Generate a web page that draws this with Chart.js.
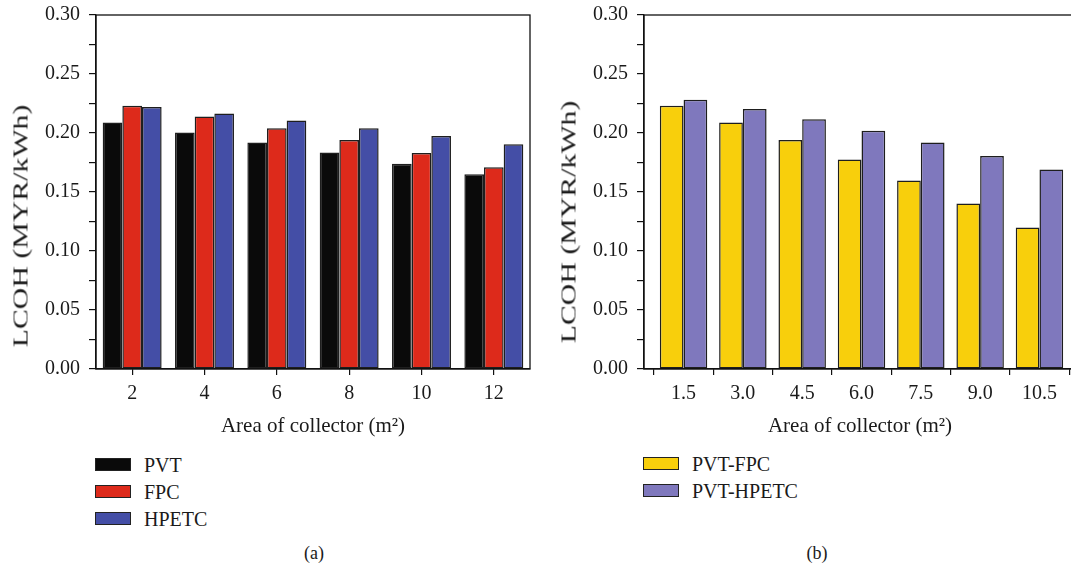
<!DOCTYPE html>
<html>
<head>
<meta charset="utf-8">
<script src="https://cdn.jsdelivr.net/npm/chart.js@4/dist/chart.umd.min.js"></script>
<style>
  body { margin: 0; width: 1071px; height: 571px; overflow: hidden; background: #fff; position: relative;
         font-family: "Liberation Serif", serif; color: #1a1a1a; }
  canvas { position: absolute; top: -6px; }
  .txt { position: absolute; white-space: nowrap; font-size: 21px; line-height: 1; }
  .ytitre { transform: translate(-50%, -50%) rotate(-90deg) scaleX(1.42); }
  .xtitre { transform: translate(-50%, -50%); }
  .leg { position: absolute; font-size: 20px; line-height: 14px; white-space: nowrap; }
  .leg span { display: inline-block; width: 34px; height: 11px; border: 1.5px solid #222; vertical-align: top; margin-right: 13px; }
</style>
</head>
<body>
<canvas id="chartA" width="545" height="451" style="left:0"></canvas>
<canvas id="chartB" width="538" height="451" style="left:556px"></canvas>

<div class="txt ytitre" style="left:21px; top:226px">LCOH (MYR/kWh)</div>
<div class="txt ytitre" style="left:569px; top:222px">LCOH (MYR/kWh)</div>
<div class="txt xtitre" style="left:313px; top:425px">Area of collector (m²)</div>
<div class="txt xtitre" style="left:860px; top:425px">Area of collector (m²)</div>
<div class="txt xtitre" style="left:314px; top:553px; font-size:18px">(a)</div>
<div class="txt xtitre" style="left:817px; top:553px; font-size:18px">(b)</div>

<div class="leg" style="left:95px; top:458px"><span style="background:#0a0a0a"></span>PVT</div>
<div class="leg" style="left:95px; top:485px"><span style="background:#dd2a1b"></span>FPC</div>
<div class="leg" style="left:95px; top:512px"><span style="background:#444ea6"></span>HPETC</div>
<div class="leg" style="left:643px; top:457px"><span style="background:#f8cf0c"></span>PVT-FPC</div>
<div class="leg" style="left:643px; top:484px"><span style="background:#7f78bd"></span>PVT-HPETC</div>

<script>
// Données (a)
const aireA = ['2', '4', '6', '8', '10', '12'];
const pvt   = [0.209, 0.2005, 0.192, 0.1835, 0.174, 0.165];
const fpc   = [0.223, 0.214, 0.204, 0.194, 0.183, 0.171];
const hpetc = [0.222, 0.2165, 0.2105, 0.204, 0.1975, 0.1905];

// Données (b)
const aireB     = [1.5, 3.0, 4.5, 6.0, 7.5, 9.0, 10.5];
const pvtFpc    = [0.223, 0.209, 0.194, 0.1775, 0.1598, 0.1403, 0.12];
const pvtHpetc  = [0.2282, 0.2203, 0.2116, 0.202, 0.1919, 0.1806, 0.169];

// Graduations de l'axe y (majeures tous les 0.05, mineures entre)
const yMin = 0, yMax = 0.30, yPas = 0.025;

Chart.defaults.font.family = '"Liberation Serif", serif';
Chart.defaults.font.size = 20;
Chart.defaults.color = '#1a1a1a';
Chart.defaults.animation = false;

// Cadre autour de la zone de tracé
const cadre = {
  id: 'cadre',
  afterDraw(chart) {
    const { ctx, chartArea: a } = chart;
    ctx.save();
    ctx.strokeStyle = '#111';
    ctx.lineWidth = 1.3;
    ctx.strokeRect(a.left, a.top, a.right - a.left, a.bottom - a.top);
    ctx.restore();
  }
};

function axeY(largeur) {
  return {
    min: yMin, max: yMax,
    afterFit: s => { s.width = largeur; },
    ticks: {
      stepSize: yPas, autoSkip: false, padding: 9,
      callback: v => Math.round(v / yPas) % 2 === 0 ? v.toFixed(2) : ''
    },
    grid: { drawOnChartArea: false, tickLength: 7, color: '#111', lineWidth: 1.2 },
    border: { color: '#111', width: 1.3 }
  };
}

function barre(label, data, couleur) {
  return { label, data, backgroundColor: couleur, borderColor: '#1e1e1e', borderWidth: 1.5,
           borderSkipped: false, categoryPercentage: 0.815, barPercentage: 1.0 };
}

new Chart(document.getElementById('chartA'), {
  type: 'bar',
  data: {
    labels: aireA,
    datasets: [
      barre('PVT', pvt, '#0a0a0a'),
      barre('FPC', fpc, '#dd2a1b'),
      barre('HPETC', hpetc, '#444ea6')
    ]
  },
  options: {
    responsive: false,
    layout: { padding: { top: 8, right: 15, bottom: 0, left: 0 } },
    plugins: { legend: { display: false }, tooltip: { enabled: false } },
    scales: {
      x: {
        afterFit: s => { s.height = 76; },
        ticks: { padding: 7 },
        grid: { drawOnChartArea: false, offset: false, tickLength: 6, color: '#111', lineWidth: 1.2 },
        border: { color: '#111', width: 1.3 }
      },
      y: axeY(96)
    }
  },
  plugins: [cadre]
});

new Chart(document.getElementById('chartB'), {
  type: 'bar',
  data: {
    datasets: [
      Object.assign(barre('PVT-FPC', pvtFpc.map((y, i) => ({ x: aireB[i], y })), '#f8cf0c'), { categoryPercentage: 0.80 }),
      Object.assign(barre('PVT-HPETC', pvtHpetc.map((y, i) => ({ x: aireB[i], y })), '#7f78bd'), { categoryPercentage: 0.80 })
    ]
  },
  options: {
    responsive: false,
    layout: { padding: { top: 8, right: 15, bottom: 0, left: 0 } },
    plugins: { legend: { display: false }, tooltip: { enabled: false } },
    scales: {
      x: {
        type: 'linear', min: 0.5, max: 11.5, offset: false,
        afterFit: s => { s.height = 76; },
        afterBuildTicks: s => { s.ticks = aireB.map(v => ({ value: v })); },
        ticks: { padding: 7, autoSkip: false, callback: v => v.toFixed(1) },
        grid: { drawOnChartArea: false, tickLength: 6, color: '#111', lineWidth: 1.2 },
        border: { color: '#111', width: 1.3 }
      },
      y: axeY(88)
    }
  },
  plugins: [cadre]
});
</script>
</body>
</html>
